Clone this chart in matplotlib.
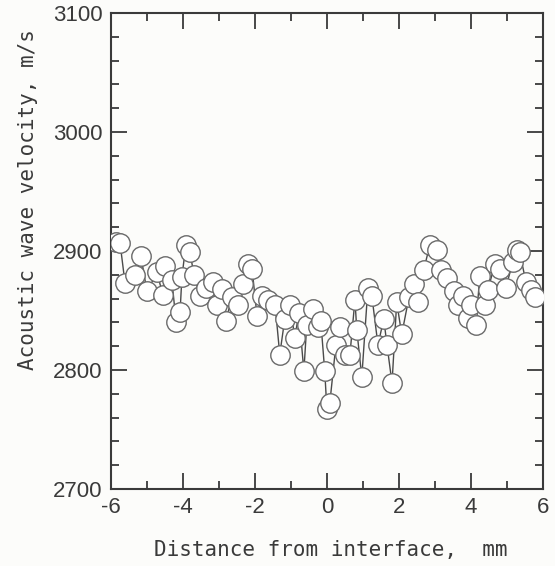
import matplotlib
matplotlib.use("Agg")
import matplotlib.pyplot as plt
from matplotlib.ticker import MultipleLocator

plt.rcParams["axes.unicode_minus"] = False

# distance from interface (mm) and measured acoustic velocity (m/s)
distance = [-5.85, -5.75, -5.61, -5.33, -5.17, -5.0, -4.72, -4.56, -4.5, -4.31,
            -4.19, -4.08, -4.03, -3.92, -3.81, -3.69, -3.53, -3.36, -3.17, -3.06,
            -2.92, -2.81, -2.64, -2.47, -2.33, -2.19, -2.08, -1.94, -1.81, -1.64,
            -1.44, -1.31, -1.17, -1.03, -0.89, -0.78, -0.64, -0.56, -0.39, -0.25,
            -0.17, -0.06, 0.0, 0.08, 0.25, 0.36, 0.5, 0.64, 0.78, 0.83,
            0.97, 1.14, 1.25, 1.42, 1.58, 1.67, 1.81, 1.94, 2.08, 2.28,
            2.42, 2.53, 2.69, 2.86, 3.06, 3.17, 3.33, 3.53, 3.64, 3.78,
            3.92, 4.0, 4.14, 4.25, 4.39, 4.47, 4.67, 4.81, 4.97, 5.17,
            5.28, 5.36, 5.53, 5.67, 5.78]
velocity = [2908, 2907, 2873, 2880, 2896, 2866, 2882, 2863, 2887, 2876,
            2840, 2849, 2878, 2905, 2899, 2880, 2862, 2869, 2874, 2855,
            2868, 2841, 2861, 2855, 2872, 2889, 2885, 2845, 2862, 2859,
            2855, 2813, 2843, 2855, 2827, 2848, 2799, 2838, 2851, 2836,
            2841, 2799, 2767, 2772, 2821, 2836, 2813, 2813, 2859, 2834,
            2794, 2869, 2862, 2821, 2843, 2821, 2789, 2857, 2830, 2861,
            2872, 2857, 2884, 2905, 2901, 2884, 2877, 2866, 2855, 2862,
            2844, 2855, 2838, 2879, 2855, 2867, 2889, 2885, 2869, 2891,
            2901, 2899, 2874, 2867, 2861]

ink = "#3a3a3a"

fig = plt.figure(figsize=(5.55, 5.66), dpi=100)
fig.patch.set_facecolor("#fcfcfa")
ax = fig.add_axes([0.2, 0.136, 0.778, 0.841])
ax.set_facecolor("#fcfcfa")

ax.plot(distance, velocity, color="#4a4a4a", lw=1.0, zorder=2)
ax.plot(distance, velocity, ls="none", marker="o", ms=14, mfc="white",
        mec="#6a6a6a", mew=1.0, zorder=3)

ax.set_xlim(-6, 6)
ax.set_ylim(2700, 3100)
ax.xaxis.set_major_locator(MultipleLocator(2))
ax.xaxis.set_minor_locator(MultipleLocator(1))
ax.yaxis.set_major_locator(MultipleLocator(100))
ax.yaxis.set_minor_locator(MultipleLocator(20))
ax.tick_params(which="both", direction="in", top=True, right=True,
               color=ink, width=1.3)
ax.tick_params(which="major", length=11.5, pad=6)
ax.tick_params(which="minor", length=6)
for lab in ax.get_xticklabels() + ax.get_yticklabels():
    lab.set_fontfamily("Liberation Sans")
    lab.set_fontsize(16)
    lab.set_color(ink)
for sp in ax.spines.values():
    sp.set_color(ink)
    sp.set_linewidth(1.5)

fig.text(331 / 555, 1 - 550 / 566, "Distance from interface,  mm",
         family="DejaVu Sans Mono", fontsize=15, color=ink,
         ha="center", va="center")
fig.text(28 / 555, 1 - 200 / 566, "Acoustic wave velocity, m/s",
         family="DejaVu Sans Mono", fontsize=15, color=ink,
         ha="center", va="center", rotation=90)

fig.savefig("out.png", dpi=100, facecolor=fig.get_facecolor())
